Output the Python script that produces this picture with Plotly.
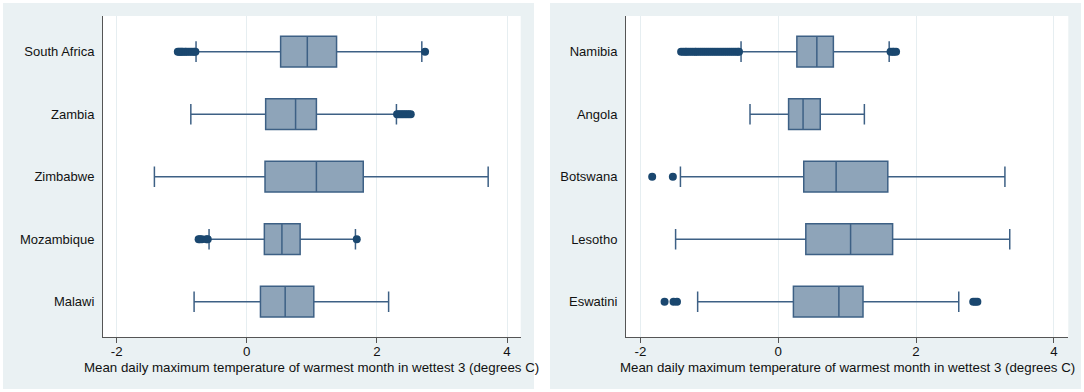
import plotly.graph_objects as go

# ---------------- data ----------------
left_countries = ["South Africa", "Zambia", "Zimbabwe", "Mozambique", "Malawi"]
left_q1 = [0.52, 0.29, 0.28, 0.27, 0.21]
left_median = [0.93, 0.75, 1.07, 0.54, 0.59]
left_q3 = [1.38, 1.07, 1.79, 0.82, 1.03]
left_lower = [-0.78, -0.86, -1.42, -0.58, -0.81]
left_upper = [2.69, 2.30, 3.71, 1.67, 2.18]

right_countries = ["Namibia", "Angola", "Botswana", "Lesotho", "Eswatini"]
right_q1 = [0.27, 0.15, 0.37, 0.40, 0.22]
right_median = [0.56, 0.36, 0.84, 1.05, 0.88]
right_q3 = [0.80, 0.61, 1.59, 1.66, 1.23]
right_lower = [-0.54, -0.41, -1.42, -1.49, -1.17]
right_upper = [1.61, 1.25, 3.29, 3.36, 2.62]

# outliers
south_africa_out = [-1.06, -1.04, -1.02, -1.00, -0.98, -0.95, -0.93, -0.90, -0.87, -0.84, -0.81, -0.79, 2.74]
zambia_out = [2.31, 2.34, 2.37, 2.40, 2.43, 2.46, 2.49, 2.52]
mozambique_out = [-0.74, -0.72, -0.69, -0.62, -0.60, 1.69]
namibia_out = [-1.41, -1.38, -1.35, -1.33, -1.30, -1.27, -1.24, -1.21, -1.19, -1.16, -1.13,
               -1.10, -1.07, -1.04, -1.01, -0.98, -0.95, -0.92, -0.89, -0.86, -0.83, -0.80,
               -0.77, -0.74, -0.71, -0.68, -0.65, -0.62, -0.59, -0.57, 1.63, 1.66, 1.68, 1.71]
botswana_out = [-1.83, -1.53]
eswatini_out = [-1.65, -1.52, -1.47, 2.83, 2.86, 2.89]

left_outliers = {"South Africa": south_africa_out, "Zambia": zambia_out, "Mozambique": mozambique_out}
right_outliers = {"Namibia": namibia_out, "Botswana": botswana_out, "Eswatini": eswatini_out}

x_ticks = [-2, 0, 2, 4]
x_title = "Mean daily maximum temperature of warmest month in wettest 3 (degrees C)"

# ---------------- style ----------------
W, H = 1084, 392
BG = "#EAF1F3"
GRID = "#E6EEF1"
FILL = "#8EA4B9"
LINE = "#3D6085"
NAVY = "#1A476F"
AXIS = "#555555"
TXT = "#111111"
FONT = "Liberation Sans, Arial, sans-serif"

fig = go.Figure()


def add_panel(cats, q1, med, q3, lo, up, outs, xa, ya):
    fig.add_trace(go.Box(
        y=cats, q1=q1, median=med, q3=q3, lowerfence=lo, upperfence=up,
        orientation="h", boxpoints=False, width=0.49, whiskerwidth=0.67,
        fillcolor=FILL, line=dict(color=LINE, width=1.5),
        xaxis=xa, yaxis=ya, showlegend=False, hoverinfo="skip"))
    for c, vals in outs.items():
        fig.add_trace(go.Scatter(
            x=vals, y=[c] * len(vals), mode="markers",
            marker=dict(color=NAVY, size=8, line=dict(width=0)),
            xaxis=xa, yaxis=ya, showlegend=False, hoverinfo="skip"))


add_panel(left_countries, left_q1, left_median, left_q3, left_lower, left_upper,
          left_outliers, "x", "y")
add_panel(right_countries, right_q1, right_median, right_q3, right_lower, right_upper,
          right_outliers, "x2", "y2")

# layout geometry (pixels -> paper)
ydom = [1 - 337.3 / H, 1 - 16 / H]
lx = [103 / W, 520.7 / W]
rx = [626 / W, 1068.3 / W]


def px(v):
    return v / W


def py(v):
    return 1 - v / H


shapes = []
for x0, x1 in [(3, 534), (550, 1081)]:
    shapes.append(dict(type="rect", xref="paper", yref="paper", x0=px(x0), x1=px(x1),
                       y0=py(389), y1=py(3), fillcolor=BG, line=dict(width=0), layer="below"))
for d in (lx, rx):
    shapes.append(dict(type="rect", xref="paper", yref="paper", x0=d[0], x1=d[1],
                       y0=ydom[0], y1=ydom[1], fillcolor="white", line=dict(width=0), layer="below"))

annotations = []
for d in (lx, rx):
    annotations.append(dict(text=x_title, xref="paper", yref="paper",
                            x=(d[0] + d[1]) / 2, y=py(367), xanchor="center", yanchor="middle",
                            showarrow=False, font=dict(size=13.3, color=TXT, family=FONT)))

xcommon = dict(range=[-2.21, 4.21], tickvals=x_ticks, ticktext=[str(t) for t in x_ticks],
               showgrid=True, gridcolor=GRID, gridwidth=1, zeroline=False, automargin=False,
               showline=True, linecolor=AXIS, linewidth=1, ticks="outside", ticklen=5,
               ticklabelstandoff=-3,
               tickcolor=AXIS, tickfont=dict(size=13.3, color=TXT, family=FONT))
ycommon = dict(type="category", range=[4.57, -0.57], showgrid=False, zeroline=False,
               automargin=False,
               showline=True, linecolor=AXIS, linewidth=1, ticks="", ticklabelstandoff=5,
               tickfont=dict(size=13, color=TXT, family=FONT))

fig.update_layout(
    width=W, height=H, autosize=False,
    margin=dict(l=0, r=0, t=0, b=0, pad=0),
    paper_bgcolor="white", plot_bgcolor="rgba(0,0,0,0)",
    font=dict(family=FONT, size=13, color=TXT),
    shapes=shapes, annotations=annotations,
    xaxis=dict(domain=lx, anchor="y", **xcommon),
    yaxis=dict(domain=ydom, anchor="x", categoryarray=left_countries, **ycommon),
    xaxis2=dict(domain=rx, anchor="y2", **xcommon),
    yaxis2=dict(domain=ydom, anchor="x2", categoryarray=right_countries, **ycommon),
)

fig.write_html("out.html", config={"displayModeBar": False},
               post_script="document.body.style.margin='0';document.body.style.overflow='hidden';")
